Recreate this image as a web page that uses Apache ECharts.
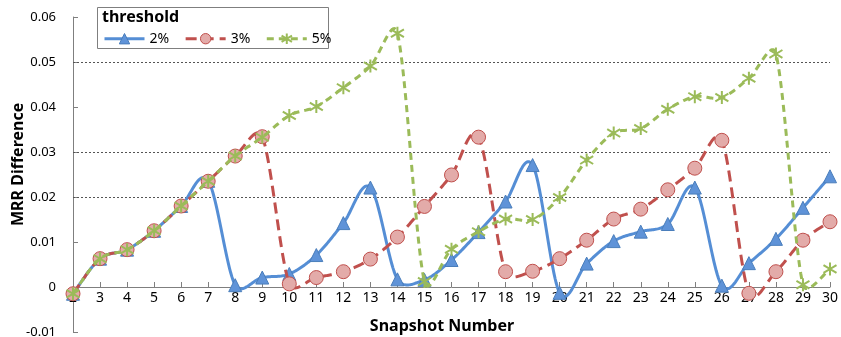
<!DOCTYPE html>
<html>
<head>
<meta charset="utf-8">
<script src="https://cdn.jsdelivr.net/npm/echarts@6/dist/echarts.min.js"></script>
<style>
  html, body { margin: 0; padding: 0; background: #fff; }
  #chart { width: 841px; height: 337px; }
</style>
</head>
<body>
<div id="chart"></div>
<script>
// Snapshot numbers along the x axis
const snapshots = ['2','3','4','5','6','7','8','9','10','11','12','13','14','15','16',
                   '17','18','19','20','21','22','23','24','25','26','27','28','29','30'];

// MRR difference per snapshot, one array per threshold
const mrr2 = [-0.0015, 0.0063, 0.0083, 0.0125, 0.018, 0.0236, 0.0004, 0.0021, 0.0029, 0.0071,
              0.0142, 0.0221, 0.0017, 0.0016, 0.006, 0.0122, 0.019, 0.0271, -0.0013, 0.0052,
              0.0102, 0.0123, 0.0140, 0.0221, 0.0003, 0.0053, 0.0107, 0.0176, 0.0246];
const mrr3 = [-0.0015, 0.0063, 0.0083, 0.0125, 0.018, 0.0235, 0.0291, 0.0334, 0.0007, 0.0021,
              0.0034, 0.0062, 0.0111, 0.0179, 0.0249, 0.0333, 0.0034, 0.0035, 0.0063, 0.0104,
              0.0151, 0.0173, 0.0216, 0.0264, 0.0326, -0.0014, 0.0034, 0.0104, 0.0145];
const mrr5 = [-0.0015, 0.0063, 0.0083, 0.0125, 0.018, 0.0235, 0.0291, 0.0333, 0.0381, 0.0401,
              0.0443, 0.0491, 0.0564, 0.0012, 0.0084, 0.0123, 0.0151, 0.0150, 0.0199, 0.0282,
              0.0342, 0.0352, 0.0395, 0.0423, 0.0421, 0.0464, 0.0518, 0.0005, 0.0040];

const seriesNames = ['2%', '3%', '5%'];

// y values that get a dotted gridline
const gridValues = [0.02, 0.03, 0.05];

const FONT = '"Noto Sans", "Open Sans", sans-serif';
const BLUE = '#558ED5', RED = '#C0504D', GREEN = '#9BBB59';
const STAR = 'path://M5,0L5,10M0,2L10,8M0,8L10,2';

const styles = [
  { name: seriesNames[0], data: mrr2, color: BLUE, dash: null,
    symbol: 'triangle', size: 13,
    item: { color: '#5F93D8', borderColor: '#4A7EBB', borderWidth: 1 } },
  { name: seriesNames[1], data: mrr3, color: RED, dash: [11, 6],
    symbol: 'circle', size: 14,
    item: { color: '#E3ABA9', borderColor: RED, borderWidth: 1 } },
  { name: seriesNames[2], data: mrr5, color: GREEN, dash: [7, 5],
    symbol: STAR, size: 13,
    item: { color: 'none', borderColor: GREEN, borderWidth: 2 } }
];

// Bezier curve through the projected points; each handle follows the
// neighbour-to-neighbour direction (1/6 of it), limited to part of its segment.
const HANDLE_CAP = 0.45;
function smoothPoints(pts) {
  const n = pts.length;
  const dist = (a, b) => Math.hypot(b[0] - a[0], b[1] - a[1]);
  const tangent = i => {
    const a = pts[Math.max(i - 1, 0)], b = pts[Math.min(i + 1, n - 1)];
    return [(b[0] - a[0]) / 6, (b[1] - a[1]) / 6];
  };
  const handle = (i, segLen, sign) => {
    const t = tangent(i);
    const len = Math.hypot(t[0], t[1]) || 1;
    const k = Math.min(1, HANDLE_CAP * segLen / len);
    return [pts[i][0] + sign * t[0] * k, pts[i][1] + sign * t[1] * k];
  };
  const out = [];
  for (let i = 0; i < n - 1; i++) {
    const p1 = pts[i], p2 = pts[i + 1];
    const seg = dist(p1, p2);
    const c1 = handle(i, seg, 1);
    const c2 = handle(i + 1, seg, -1);
    const steps = 24;
    for (let s = (i === 0 ? 0 : 1); s <= steps; s++) {
      const t = s / steps, u = 1 - t;
      out.push([
        u*u*u*p1[0] + 3*u*u*t*c1[0] + 3*u*t*t*c2[0] + t*t*t*p2[0],
        u*u*u*p1[1] + 3*u*u*t*c1[1] + 3*u*t*t*c2[1] + t*t*t*p2[1]
      ]);
    }
  }
  return out;
}

const series = [];
styles.forEach((st, k) => {
  // smoothed connecting curve
  series.push({
    type: 'custom',
    id: 'curve' + k,
    data: st.data.map((v, i) => [i, v]),
    encode: { x: 0, y: 1 },
    clip: false,
    silent: true,
    z: 2 + k * 2,
    renderItem: function (params, api) {
      if (params.dataIndex !== 0) return null;
      const pts = st.data.map((v, i) => api.coord([i, v]));
      return {
        type: 'polyline',
        shape: { points: smoothPoints(pts) },
        style: { stroke: st.color, lineWidth: 3, fill: null,
                 lineDash: st.dash, lineCap: 'butt', lineJoin: 'round' }
      };
    }
  });
  // markers
  const marks = {
    name: st.name, type: 'line', data: st.data,
    symbol: st.symbol, symbolSize: st.size, showAllSymbol: true,
    lineStyle: { width: 0, opacity: 0 },
    itemStyle: st.item,
    z: 3 + k * 2
  };
  if (k === 2) {
    marks.markLine = {
      silent: true, symbol: 'none', label: { show: false },
      lineStyle: { color: '#555', type: [2, 2], width: 1 },
      data: gridValues.map(v => ({ yAxis: v })),
      z: 1
    };
  }
  series.push(marks);
});

const chart = echarts.init(document.getElementById('chart'), null, { renderer: 'canvas' });

chart.setOption({
  animation: false,
  backgroundColor: '#fff',
  grid: { left: 73, right: 11, top: 17, bottom: 5, containLabel: false, outerBoundsMode: 'none' },
  legend: {
    left: 103, top: 31, z: 20, padding: 0,
    itemWidth: 40, itemHeight: 13, itemGap: 15,
    textStyle: { fontFamily: FONT, fontSize: 14, color: '#000' },
    data: styles.map(st => ({
      name: st.name,
      lineStyle: { color: st.color, width: 3, type: st.dash || 'solid', opacity: 1 },
      itemStyle: st.item
    }))
  },
  xAxis: {
    type: 'category',
    data: snapshots,
    boundaryGap: false,
    axisLine: { onZero: true, lineStyle: { color: '#7f7f7f', width: 1 } },
    axisTick: { inside: true, length: 5, alignWithLabel: true, lineStyle: { color: '#7f7f7f' } },
    axisLabel: { fontFamily: FONT, fontSize: 14, color: '#000', margin: -41, interval: 0 },
    splitLine: { show: false }
  },
  yAxis: {
    type: 'value',
    min: -0.01, max: 0.06, interval: 0.01,
    axisLine: { show: true, lineStyle: { color: '#7f7f7f', width: 1 } },
    axisTick: { show: true, inside: true, length: 5, lineStyle: { color: '#7f7f7f' } },
    axisLabel: {
      fontFamily: FONT, fontSize: 13, color: '#000', margin: 17,
      formatter: v => (Math.abs(v) < 1e-9 ? '0' : v.toFixed(2))
    },
    splitLine: { show: false }
  },
  graphic: [
    {
      type: 'text', x: 10, y: 226, rotation: Math.PI / 2,
      style: { text: 'MRR Difference', font: 'bold 16px ' + FONT, fill: '#000' }
    },
    {
      type: 'text', x: 442, y: 326,
      style: { text: 'Snapshot Number', font: 'bold 16px ' + FONT, fill: '#000',
               align: 'center', verticalAlign: 'middle' }
    },
    {
      type: 'rect', shape: { x: 97.5, y: 7.5, width: 231, height: 41 },
      style: { fill: '#fff', stroke: '#7f7f7f', lineWidth: 1 }, z: 0, zlevel: 0
    },
    {
      type: 'text', x: 102, y: 17,
      style: { text: 'threshold', font: 'bold 16px ' + FONT, fill: '#000', verticalAlign: 'middle' }
    }
  ],
  series: series
});
</script>
</body>
</html>
